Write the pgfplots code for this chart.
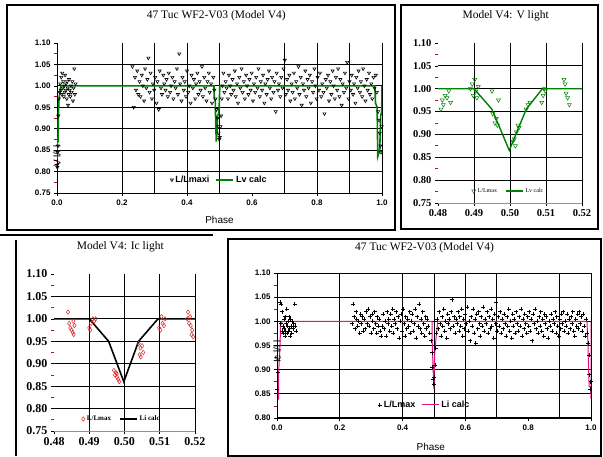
\documentclass[border=0pt]{standalone}
\usepackage{pgfplots}
\pgfplotsset{compat=1.18}
\usepackage{fontspec}
\setmainfont{Liberation Serif}
\setsansfont{Liberation Sans}
\definecolor{lvgreen}{RGB}{0,128,0}
\definecolor{limag}{RGB}{225,20,130}
\definecolor{ptred}{RGB}{220,40,40}
\definecolor{mtick}{RGB}{170,20,20}
\definecolor{axpink}{RGB}{225,110,135}
\pgfplotsset{
  panel/.style={scale only axis, anchor=south west,
    axis x line*=bottom, axis y line*=left, axis line style={-, black, line width=0.9pt},
    tick align=outside, major tick length=3pt, minor tick length=3pt,
    every major tick/.append style={black, line width=0.7pt},
    every minor tick/.append style={mtick, line width=0.8pt},
    minor y tick num=1, minor x tick num=0,
    /pgf/number format/assume math mode=true,
    extra x tick labels={}, extra y tick labels={},
    extra tick style={grid=major, major tick length=0pt},
    grid style={black, line width=0.8pt},
    yticklabel style={/pgf/number format/.cd, fixed, fixed zerofill, precision=2},
    legend cell align=left,
  },
}
\begin{document}
\begin{tikzpicture}[x=1pt,y=1pt]
\path[use as bounding box, fill=white] (0,0) rectangle (603,456);
% frames
\draw[line width=1.1pt] (7,226) rectangle (395,451);
\draw[line width=1.1pt] (401,227) rectangle (598,451);
\draw[line width=1.1pt] (0,221) -- (213,221);
\draw[line width=1.1pt] (16,216) -- (16,0);
\draw[line width=1.1pt] (228,0) rectangle (601,217);

% ---------------- Panel A ----------------
\begin{axis}[panel, at={(57pt,263pt)}, width=325pt, height=150pt,
  xmin=0, xmax=1, ymin=0.75, ymax=1.10,
  xtick={0,0.2,0.4,0.6,0.8,1.0},
  ytick={0.75,0.80,0.85,0.90,0.95,1.00,1.05,1.10},
  extra x ticks={0.2,0.3,0.4,0.5,0.7,0.8,0.9,1.0},
  extra y ticks={0.80,0.85,0.90,0.95,1.00,1.05},
  xticklabel style={/pgf/number format/.cd, fixed, fixed zerofill, precision=1},
  tick label style={font=\sffamily\bfseries\fontsize{8}{9}\selectfont},
  title={47 Tuc WF2-V03 (Model V4)},
  title style={font=\fontsize{11.5}{13}\selectfont, at={(0.49,1)}, anchor=center, yshift=21pt},
  xlabel={Phase},
  xlabel style={font=\sffamily\fontsize{10}{12}\selectfont, at={(0.5,0)}, anchor=center, yshift=-27pt},
  ylabel={V l/l l},
  ylabel style={font=\sffamily\fontsize{10}{12}\selectfont, at={(0,0.5)}, anchor=center, xshift=-38pt},
  legend style={draw=none, fill=none, at={(0.5,0.087)}, anchor=center, legend columns=2,
    font=\sffamily\bfseries\fontsize{9}{10}\selectfont,
    /tikz/every even column/.append style={column sep=4pt}},
]
\addplot[only marks, black, mark=triangle, mark size=1.8pt, mark options={rotate=180, line width=0.6pt}] coordinates {
(0.000,0.815) (0.001,0.81) (0.002,0.845) (0.003,0.86) (0.004,0.93) (0.006,0.97) (0.008,0.985)
(0.010,1.005) (0.012,0.99) (0.013,1.02) (0.015,0.98) (0.016,1.03) (0.018,0.995) (0.019,1.01)
(0.021,0.975) (0.022,1.00) (0.024,0.985) (0.025,1.025) (0.027,0.99) (0.028,1.005) (0.030,0.97)
(0.031,1.01) (0.033,0.995) (0.034,0.955) (0.036,0.98) (0.037,1.015) (0.039,0.99) (0.041,0.975)
(0.043,1.00) (0.045,0.985) (0.047,1.01) (0.049,0.965) (0.051,0.995) (0.053,1.04) (0.055,0.98) (0.057,1.005)
(0.232,1.045) (0.236,0.95) (0.240,1.02) (0.243,0.99) (0.247,1.035) (0.250,0.98) (0.254,1.01) (0.257,0.975)
(0.261,1.025) (0.264,1.00) (0.268,0.965) (0.271,1.04) (0.275,0.995) (0.278,1.015) (0.281,1.065) (0.285,0.985)
(0.288,1.03) (0.292,0.97) (0.295,1.005) (0.299,0.99) (0.302,1.02) (0.306,0.96) (0.309,1.01) (0.313,0.945)
(0.316,1.035) (0.320,0.995) (0.323,0.98) (0.327,1.025) (0.330,1.005) (0.334,0.99) (0.337,1.015) (0.341,0.975)
(0.344,1.03) (0.348,0.985) (0.351,1.00) (0.355,1.02) (0.358,0.97) (0.362,1.01) (0.365,0.995) (0.369,1.04)
(0.372,0.98) (0.376,1.075) (0.379,1.005) (0.383,0.965) (0.386,1.02) (0.390,0.99) (0.393,1.01) (0.397,0.975)
(0.400,1.035) (0.404,0.985) (0.407,1.00) (0.411,0.96) (0.414,1.025) (0.418,0.995) (0.421,1.015) (0.425,0.97)
(0.428,1.005) (0.432,1.03) (0.435,0.98) (0.439,1.01) (0.442,0.99) (0.446,1.045) (0.449,0.975) (0.453,1.02)
(0.456,0.995) (0.460,0.965) (0.463,1.01) (0.467,1.03) (0.470,0.985) (0.474,1.005) (0.477,0.96) (0.481,1.02)
(0.484,0.99) (0.488,0.97) (0.491,0.945) (0.494,0.925) (0.496,0.905) (0.497,0.89) (0.499,0.875) (0.501,0.88)
(0.503,0.905) (0.505,0.93) (0.507,0.97) (0.509,1.00) (0.512,1.03) (0.515,0.985) (0.519,1.01) (0.522,0.995)
(0.526,0.97) (0.529,1.025) (0.533,1.00) (0.536,0.98) (0.540,1.015) (0.543,0.99) (0.547,1.035) (0.550,0.975)
(0.554,1.005) (0.557,0.96) (0.561,1.02) (0.564,0.995) (0.568,1.04) (0.571,0.985) (0.575,1.01) (0.578,0.97)
(0.582,1.025) (0.585,1.00) (0.589,0.98) (0.592,1.015) (0.596,0.99) (0.599,1.03) (0.603,0.965) (0.606,1.005)
(0.610,0.985) (0.613,1.02) (0.617,0.995) (0.620,1.04) (0.624,0.975) (0.627,1.01) (0.631,0.99) (0.634,1.025)
(0.638,0.96) (0.641,1.005) (0.645,0.98) (0.648,1.015) (0.652,1.035) (0.655,0.995) (0.659,0.97) (0.662,1.02)
(0.666,0.985) (0.669,1.01) (0.673,0.94) (0.676,1.03) (0.680,0.99) (0.683,1.005) (0.687,0.975) (0.690,1.02)
(0.694,0.995) (0.697,1.04) (0.701,1.06) (0.704,0.98) (0.708,1.015) (0.711,0.99) (0.715,1.025) (0.718,0.965)
(0.722,1.005) (0.725,0.985) (0.729,1.03) (0.732,0.97) (0.736,1.01) (0.739,0.995) (0.743,1.045) (0.746,0.98)
(0.750,1.02) (0.753,0.955) (0.757,1.005) (0.760,0.99) (0.764,1.035) (0.767,0.975) (0.771,1.015) (0.774,0.995)
(0.778,1.025) (0.781,0.96) (0.785,1.01) (0.788,0.985) (0.792,1.04) (0.795,1.00) (0.799,0.97) (0.802,1.02)
(0.806,0.99) (0.809,1.03) (0.813,0.975) (0.816,1.005) (0.820,0.985) (0.823,0.935) (0.827,1.015) (0.830,0.995)
(0.834,1.025) (0.837,0.965) (0.841,1.01) (0.844,0.98) (0.848,1.035) (0.851,1.00) (0.855,0.97) (0.858,1.02)
(0.862,0.99) (0.865,1.04) (0.869,0.975) (0.872,1.015) (0.876,0.955) (0.879,1.005) (0.883,0.985) (0.886,1.03)
(0.890,0.995) (0.893,1.055) (0.897,0.97) (0.900,1.01) (0.904,0.99) (0.907,1.025) (0.911,0.98) (0.914,1.005)
(0.918,0.96) (0.921,1.02) (0.925,0.995) (0.928,1.035) (0.932,0.985) (0.935,1.01) (0.939,0.975) (0.942,1.04)
(0.946,1.00) (0.949,0.965) (0.953,1.015) (0.956,0.99) (0.960,1.03) (0.963,0.98) (0.967,1.005) (0.970,0.97)
(0.974,1.02) (0.977,0.995) (0.981,1.025) (0.984,0.985) (0.988,0.94) (0.991,0.92) (0.993,0.89) (0.995,0.86)
(0.997,0.845) (0.999,0.905)
};
\addlegendentry{L/Lmaxi}
\addplot[lvgreen, line width=1.6pt] coordinates {
(0.000,0.83) (0.000,0.865) (0.003,0.87) (0.004,0.92) (0.006,0.97) (0.009,0.985) (0.012,1.0)
(0.483,1.0) (0.484,0.97) (0.487,0.965) (0.488,0.925) (0.490,0.87) (0.492,0.89) (0.494,0.93)
(0.497,0.935) (0.499,0.95) (0.501,1.0) (0.978,1.0) (0.980,0.96) (0.985,0.95) (0.987,0.835)
(0.993,0.85) (0.996,0.93) (0.999,0.94) (1.000,1.0)
};
\addlegendentry{Lv calc}
\end{axis}

% ---------------- Panel B ----------------
\begin{axis}[panel, at={(438pt,253pt)}, width=144pt, height=160pt,
  xmin=0.48, xmax=0.52, ymin=0.75, ymax=1.10,
  xtick={0.48,0.49,0.50,0.51,0.52},
  ytick={0.75,0.80,0.85,0.90,0.95,1.00,1.05,1.10},
  extra x ticks={0.49,0.50,0.51,0.52},
  extra y ticks={0.80,0.85,0.90,0.95,1.00,1.05},
  y axis line style={draw=none},
  x axis line style={draw=axpink},
  xticklabel style={/pgf/number format/.cd, fixed, fixed zerofill, precision=2},
  tick label style={font=\bfseries\fontsize{10.5}{12}\selectfont},
  title={Model V4: V light},
  title style={font=\fontsize{11.5}{13}\selectfont, at={(0.47,1)}, anchor=center, yshift=21pt},
  legend style={draw=none, fill=none, at={(0.49,0.075)}, anchor=center, legend columns=2,
    font=\fontsize{6}{7}\selectfont,
    /tikz/every even column/.append style={column sep=6pt}},
]
\addplot[only marks, lvgreen, mark=triangle, mark size=2.3pt, mark options={rotate=180, line width=0.5pt}] coordinates {
(0.4808,0.955) (0.4812,0.975) (0.4815,0.965) (0.4820,0.985) (0.4825,0.98) (0.4830,0.995) (0.4835,0.97)
(0.4890,1.00) (0.4895,1.01) (0.4898,0.985) (0.4902,1.02) (0.4905,0.995) (0.4908,0.98) (0.4912,1.005)
(0.4950,0.995) (0.4968,0.975) (0.4952,0.945) (0.4958,0.925) (0.4962,0.935) (0.4965,0.92)
(0.5008,0.885) (0.5012,0.89) (0.5015,0.875) (0.5018,0.905) (0.5022,0.92) (0.5025,0.915)
(0.5045,0.955) (0.5050,0.965) (0.5055,0.97) (0.5088,0.97) (0.5092,0.985) (0.5095,1.00) (0.5098,0.995)
(0.5150,1.02) (0.5153,1.01) (0.5156,0.99) (0.5160,0.98) (0.5165,0.965)
};
\addlegendentry{L/Lmax}
\addplot[lvgreen, line width=1.4pt] coordinates {
(0.48,1.0) (0.49,1.0) (0.4950,0.955) (0.4998,0.865) (0.5045,0.955) (0.5090,1.0) (0.52,1.0)
};
\addlegendentry{Lv calc}
\end{axis}

% ---------------- Panel C ----------------
\begin{axis}[panel, at={(54pt,25pt)}, width=141pt, height=157pt,
  xmin=0.48, xmax=0.52, ymin=0.75, ymax=1.10,
  xtick={0.48,0.49,0.50,0.51,0.52},
  ytick={0.75,0.80,0.85,0.90,0.95,1.00,1.05,1.10},
  extra x ticks={0.49,0.50,0.51,0.52},
  extra y ticks={0.80,0.85,0.90,0.95,1.00,1.05},
  y axis line style={draw=none},
  x axis line style={draw=axpink},
  xticklabel style={/pgf/number format/.cd, fixed, fixed zerofill, precision=2},
  tick label style={font=\bfseries\fontsize{12}{14}\selectfont},
  title={Model V4: Ic light},
  title style={font=\fontsize{11.5}{13}\selectfont, at={(0.47,1)}, anchor=center, yshift=21pt},
  legend style={draw=none, fill=none, at={(0.48,0.076)}, anchor=center, legend columns=2,
    font=\fontsize{7}{8}\selectfont\bfseries,
    /tikz/every even column/.append style={column sep=6pt}},
]
\addplot[only marks, ptred, mark=diamond, mark size=2.2pt, mark options={line width=0.5pt}] coordinates {
(0.4840,1.015) (0.4843,0.99) (0.4846,0.98) (0.4850,0.975) (0.4853,0.97) (0.4856,0.965) (0.4855,0.995) (0.4858,0.985)
(0.4900,0.98) (0.4903,0.975) (0.4905,0.99) (0.4910,1.0) (0.4914,0.995) (0.4918,1.0)
(0.4970,0.885) (0.4973,0.875) (0.4976,0.88) (0.4979,0.87) (0.4982,0.865) (0.4985,0.86) (0.4978,0.877)
(0.5040,0.945) (0.5043,0.92) (0.5046,0.915) (0.5050,0.94) (0.5053,0.925) (0.5045,0.935)
(0.5098,0.98) (0.5102,0.975) (0.5105,1.005) (0.5108,0.99) (0.5112,0.985) (0.5115,1.0)
(0.5180,1.015) (0.5183,0.99) (0.5186,1.005) (0.5188,0.985) (0.5192,0.975) (0.5195,0.96) (0.5190,0.965) (0.5178,1.0)
};
\addlegendentry{L/Lmax}
\addplot[black, line width=1.6pt] coordinates {
(0.48,1.0) (0.49,1.0) (0.4955,0.95) (0.4998,0.86) (0.5040,0.95) (0.5095,1.0) (0.52,1.0)
};
\addlegendentry{Li calc}
\end{axis}

% ---------------- Panel D ----------------
\begin{axis}[panel, at={(277pt,38pt)}, width=314pt, height=145pt,
  xmin=0, xmax=1, ymin=0.80, ymax=1.10,
  xtick={0,0.2,0.4,0.6,0.8,1.0},
  ytick={0.80,0.85,0.90,0.95,1.00,1.05,1.10},
  extra x ticks={0.2,0.4,0.5,0.6,0.7,0.9,1.0},
  extra y ticks={0.85,0.90,0.95,1.00,1.05,1.10},
  x axis line style={line width=1.4pt},
  xticklabel style={/pgf/number format/.cd, fixed, fixed zerofill, precision=1},
  tick label style={font=\sffamily\bfseries\fontsize{8}{9}\selectfont},
  title={47 Tuc WF2-V03 (Model V4)},
  title style={font=\fontsize{11.5}{13}\selectfont, at={(0.47,1)}, anchor=center, yshift=19pt},
  xlabel={Phase},
  xlabel style={font=\sffamily\fontsize{10}{12}\selectfont, at={(0.49,0)}, anchor=center, yshift=-29pt},
  ylabel={Ic l/l l},
  ylabel style={font=\sffamily\fontsize{10}{12}\selectfont, at={(0,0.72)}, anchor=center, xshift=-38pt},
  legend style={draw=none, fill=none, at={(0.47,0.09)}, anchor=center, legend columns=2,
    font=\sffamily\bfseries\fontsize{9}{10}\selectfont,
    /tikz/every even column/.append style={column sep=4pt}},
]
\addplot[only marks, black, mark=+, mark size=2pt, mark options={line width=0.6pt}] coordinates {
(0.000,0.86) (0.002,0.895) (0.011,1.04) (0.012,0.995) (0.014,1.035) (0.016,0.98) (0.017,1.02) (0.019,0.975)
(0.020,0.99) (0.022,1.005) (0.023,0.985) (0.025,0.97) (0.026,1.01) (0.028,0.98) (0.029,0.995) (0.031,1.025)
(0.032,0.975) (0.034,0.99) (0.035,1.00) (0.037,0.98) (0.038,1.01) (0.040,0.985) (0.041,0.97) (0.043,1.005)
(0.045,0.99) (0.047,0.975) (0.049,1.00) (0.051,0.985) (0.053,0.995) (0.056,1.035) (0.058,0.99) (0.060,0.98)
(0.240,0.995) (0.242,1.035) (0.245,1.01) (0.248,0.985) (0.251,1.02) (0.254,1.005) (0.257,0.99) (0.260,1.00)
(0.263,0.975) (0.266,1.015) (0.269,0.995) (0.272,1.01) (0.275,0.98) (0.278,1.005) (0.281,0.985) (0.284,1.02)
(0.287,0.995) (0.290,1.025) (0.293,0.99) (0.296,1.01) (0.299,0.975) (0.302,1.015) (0.305,1.00) (0.308,0.985)
(0.311,1.02) (0.314,0.995) (0.317,0.975) (0.320,1.01) (0.323,0.99) (0.326,1.005) (0.329,0.98) (0.332,0.97)
(0.335,0.99) (0.338,1.015) (0.341,0.985) (0.344,1.00) (0.347,0.97) (0.350,1.02) (0.353,0.995) (0.356,1.005)
(0.359,0.98) (0.362,1.015) (0.365,0.99) (0.368,1.025) (0.371,0.975) (0.374,1.005) (0.377,0.995) (0.380,1.02)
(0.383,0.985) (0.386,1.01) (0.389,0.965) (0.392,1.00) (0.395,1.015) (0.398,0.98) (0.401,1.025) (0.404,0.995)
(0.407,0.97) (0.410,1.01) (0.413,0.985) (0.416,1.005) (0.419,0.99) (0.422,1.02) (0.425,0.975) (0.428,1.00)
(0.431,1.015) (0.434,0.98) (0.437,0.995) (0.440,1.025) (0.443,0.965) (0.446,1.01) (0.449,0.99) (0.452,1.035)
(0.455,0.985) (0.458,1.005) (0.461,0.975) (0.464,1.02) (0.467,0.995) (0.470,0.97) (0.473,1.01) (0.476,0.985)
(0.479,1.005) (0.482,0.99) (0.486,0.975) (0.490,0.96) (0.493,0.935) (0.495,0.905) (0.497,0.88) (0.499,0.87)
(0.501,0.885) (0.503,0.91) (0.505,0.945) (0.507,0.975) (0.510,1.005) (0.513,0.985) (0.516,1.02) (0.519,0.995)
(0.522,0.97) (0.525,1.01) (0.528,0.99) (0.531,1.025) (0.534,0.98) (0.537,1.00) (0.540,0.965) (0.543,1.015)
(0.546,0.995) (0.549,1.005) (0.552,0.985) (0.555,1.02) (0.558,1.045) (0.561,0.99) (0.564,1.01) (0.567,0.975)
(0.570,1.005) (0.573,0.995) (0.576,1.02) (0.579,0.98) (0.582,1.01) (0.585,0.99) (0.588,1.025) (0.591,0.97)
(0.594,1.005) (0.597,0.985) (0.600,1.015) (0.603,0.995) (0.606,1.03) (0.609,0.98) (0.612,1.00) (0.615,0.96)
(0.618,1.01) (0.621,0.99) (0.624,1.025) (0.627,0.975) (0.630,1.005) (0.633,0.955) (0.636,1.015) (0.639,0.985)
(0.642,1.02) (0.645,0.995) (0.648,0.97) (0.651,1.01) (0.654,0.99) (0.657,1.03) (0.660,0.98) (0.663,1.005)
(0.666,0.995) (0.669,1.02) (0.672,0.975) (0.675,1.01) (0.678,0.985) (0.681,1.025) (0.684,0.99) (0.687,1.005)
(0.690,0.965) (0.693,1.015) (0.696,0.995) (0.699,1.04) (0.702,0.98) (0.705,1.01) (0.708,0.99) (0.711,1.02)
(0.714,0.975) (0.717,1.005) (0.720,0.985) (0.723,1.015) (0.726,0.995) (0.729,0.97) (0.732,1.01) (0.735,0.99)
(0.738,1.025) (0.741,0.98) (0.744,1.00) (0.747,0.965) (0.750,1.015) (0.753,0.99) (0.756,1.005) (0.759,0.975)
(0.762,1.02) (0.765,0.995) (0.768,0.98) (0.771,1.01) (0.774,0.99) (0.777,1.025) (0.780,0.97) (0.783,1.005)
(0.786,0.985) (0.789,1.015) (0.792,0.995) (0.795,0.975) (0.798,1.01) (0.801,0.99) (0.804,1.02) (0.807,0.98)
(0.810,1.005) (0.813,0.96) (0.816,1.015) (0.819,0.995) (0.822,1.025) (0.825,0.985) (0.828,1.00) (0.831,0.975)
(0.834,1.01) (0.837,0.99) (0.840,1.02) (0.843,0.98) (0.846,1.005) (0.849,0.97) (0.852,1.015) (0.855,0.995)
(0.858,1.01) (0.861,0.985) (0.864,0.965) (0.867,1.00) (0.870,0.99) (0.873,1.015) (0.876,0.98) (0.879,1.005)
(0.882,0.995) (0.885,1.02) (0.888,0.975) (0.891,1.01) (0.894,0.99) (0.897,0.97) (0.900,1.005) (0.903,0.985)
(0.906,1.015) (0.909,0.995) (0.912,1.02) (0.915,0.98) (0.918,1.00) (0.921,0.99) (0.924,1.015) (0.927,0.975)
(0.930,1.005) (0.933,0.985) (0.936,1.01) (0.939,0.995) (0.942,1.02) (0.945,0.98) (0.948,0.97) (0.951,1.005)
(0.954,0.99) (0.957,1.015) (0.960,0.985) (0.963,1.02) (0.966,0.995) (0.969,1.01) (0.972,0.98) (0.975,1.015)
(0.978,0.99) (0.981,0.97) (0.984,1.005) (0.988,0.975) (0.991,0.955) (0.993,0.93) (0.995,0.89) (0.997,0.86)
(0.999,0.875)
};
\addlegendentry{L/Lmax}
\addplot[limag, line width=1.0pt] coordinates {
(0.005,0.838) (0.005,0.89) (0.010,0.955) (0.011,0.99) (0.016,1.0)
(0.494,1.0) (0.494,0.962) (0.497,0.905) (0.4995,0.86) (0.502,0.93) (0.507,0.97) (0.509,0.98) (0.512,1.0)
(0.987,1.0) (0.990,0.96) (0.994,0.865) (0.998,0.865) (1.000,0.84) (1.000,1.0)
};
\addlegendentry{Li calc}
\end{axis}
\end{tikzpicture}
\end{document}
